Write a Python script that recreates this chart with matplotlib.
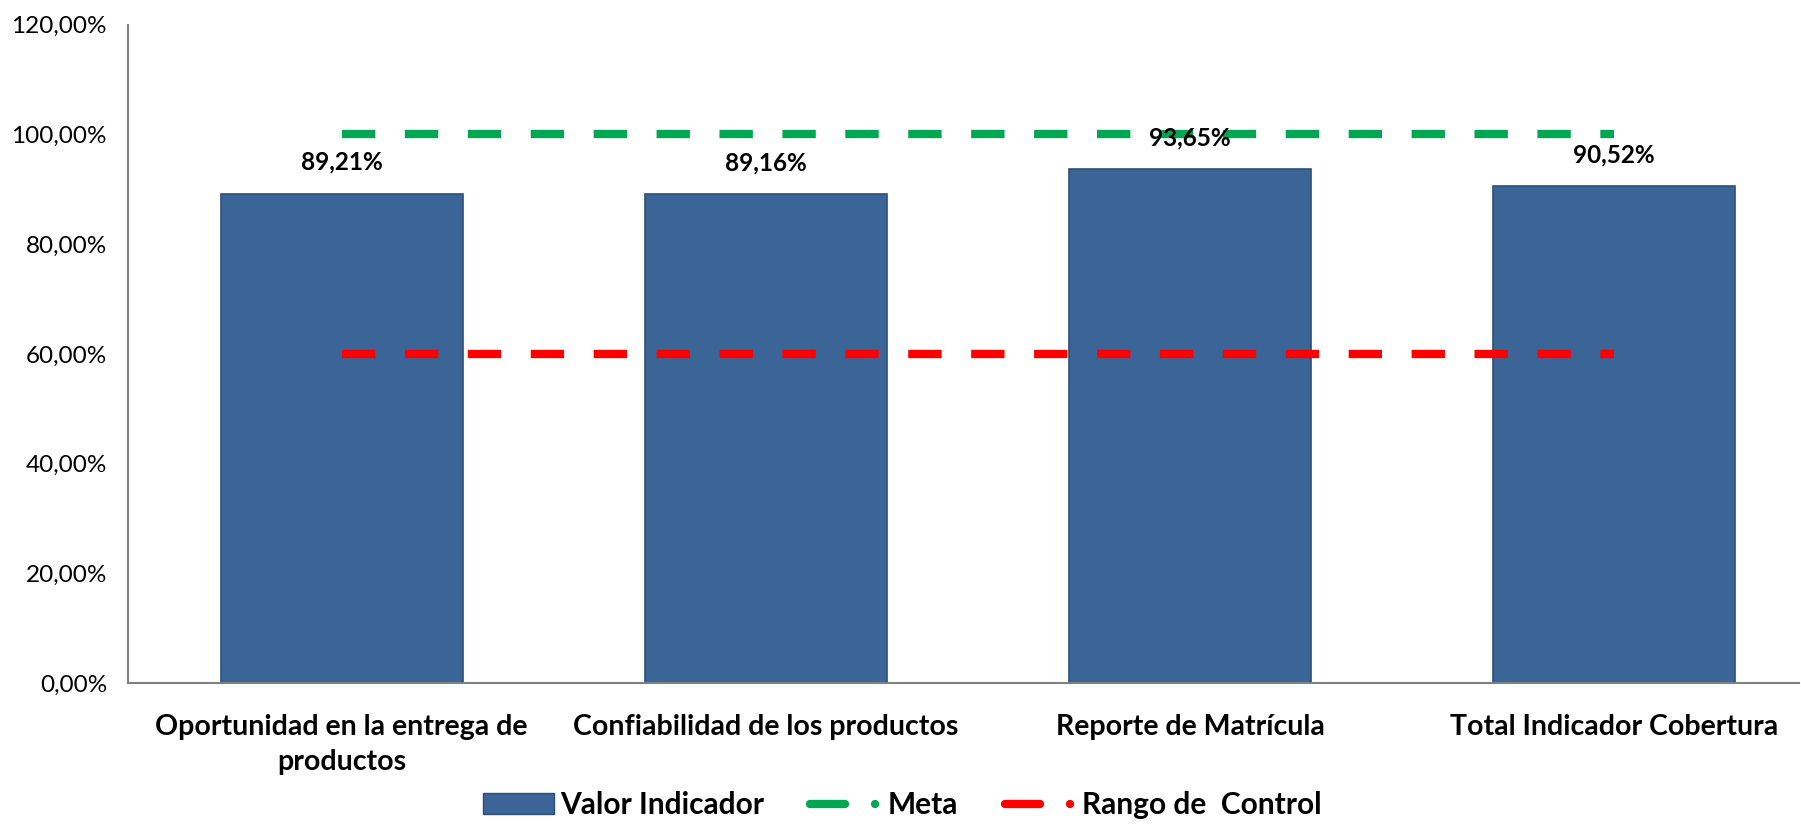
import numpy as np
import matplotlib.pyplot as plt
from matplotlib.lines import Line2D
from matplotlib.patches import Patch

# data
categories = ["Oportunidad en la entrega de\nproductos", "Confiabilidad de los productos",
              "Reporte de Matrícula", "Total Indicador Cobertura"]
valor_indicador = [89.21, 89.16, 93.65, 90.52]
meta = [100, 100, 100, 100]
rango_control = [60, 60, 60, 60]
yticks = [0, 20, 40, 60, 80, 100, 120]

plt.rcParams['font.family'] = ['Lato', 'DejaVu Sans']

BLUE = '#3B6597'
GREEN = '#00A651'
RED = '#FF0000'

fig = plt.figure(figsize=(18.01, 8.25), dpi=100)
ax = fig.add_axes([0.071, 0.172, 0.928, 0.798])

x = np.arange(len(categories))
ax.bar(x, valor_indicador, width=0.57, color=BLUE, edgecolor='#2C4E78', linewidth=1.2, zorder=2)

ax.plot(x, meta, color=GREEN, lw=6, dashes=(4, 3.55), zorder=3)
ax.plot(x, rango_control, color=RED, lw=6, dashes=(4, 3.55), zorder=3)

for xi, v in zip(x, valor_indicador):
    ax.text(xi, v + 3.6, f"{v:.2f}%".replace('.', ','), ha='center', va='bottom',
            fontsize=17.5, fontweight='bold', zorder=4)

ax.set_xlim(-0.504, 3.436)
ax.set_ylim(0, 120)
ax.set_yticks(yticks)
ax.set_yticklabels([f"{t:.2f}%".replace('.', ',') for t in yticks], fontsize=17.5)
ax.set_xticks(x)
ax.set_xticklabels(categories, fontsize=20.5, fontweight='bold', linespacing=1.45)
ax.tick_params(axis='x', length=0, pad=22)
ax.tick_params(axis='y', length=0, pad=15)
for s in ['top', 'right']:
    ax.spines[s].set_visible(False)
for s in ['left', 'bottom']:
    ax.spines[s].set_color('#808080')
    ax.spines[s].set_linewidth(1.5)

handles = [Patch(facecolor=BLUE, edgecolor='#2C4E78', label='Valor Indicador'),
           Line2D([0], [0], color=GREEN, lw=6, dashes=(4.2, 3.6, 0.01, 30), dash_capstyle='round',
                  label='Meta'),
           Line2D([0], [0], color=RED, lw=6, dashes=(4.2, 3.6, 0.01, 30), dash_capstyle='round',
                  label='Rango de  Control')]
fig.legend(handles=handles, loc='center', bbox_to_anchor=(0.501, 0.024), ncol=3, frameon=False,
           prop={'size': 21.5, 'weight': 'bold'}, handlelength=2.4, columnspacing=1.55,
           handletextpad=0.2)

fig.savefig('out.png', dpi=100)
